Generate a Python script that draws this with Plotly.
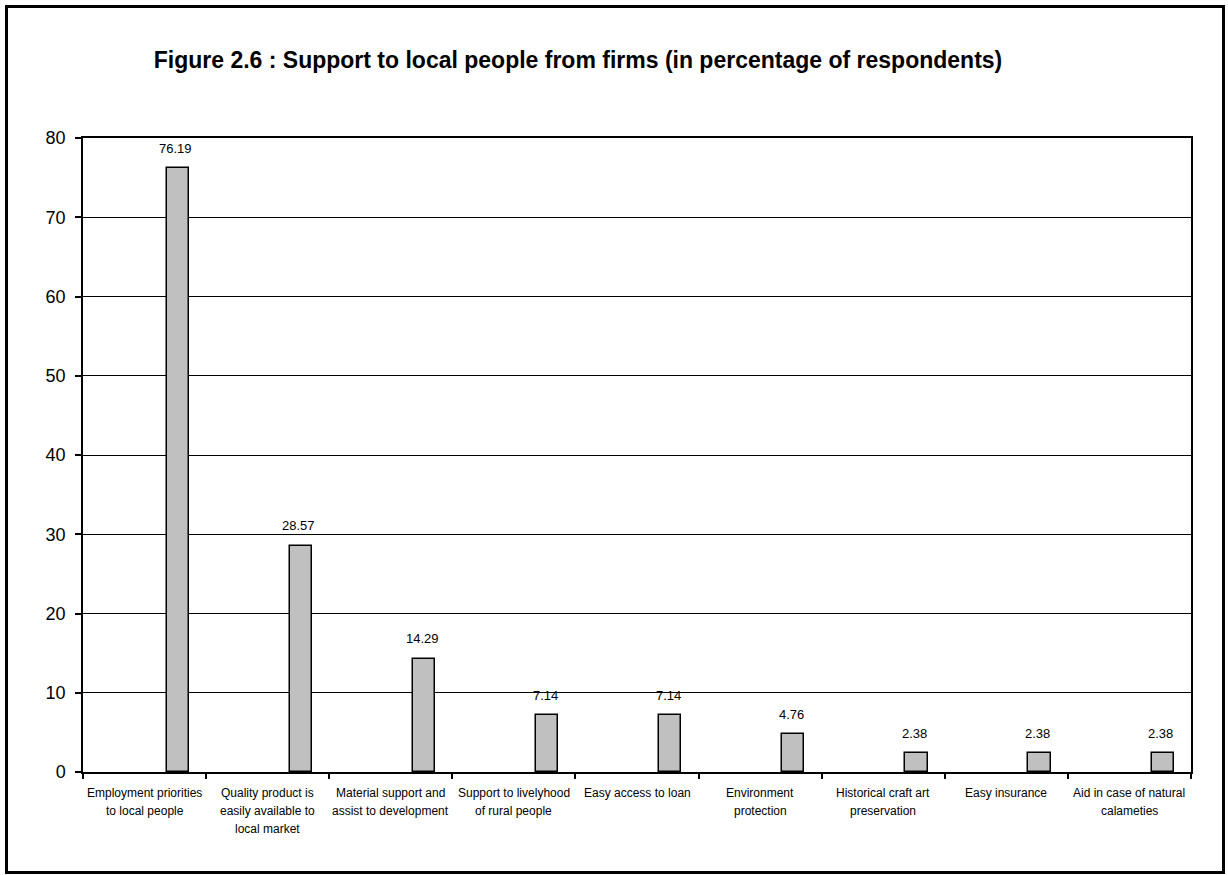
import plotly.graph_objects as go

categories = [
    "Employment priorities<br>to local people",
    "Quality product is<br>easily available to<br>local market",
    "Material support and<br>assist to development",
    "Support to livelyhood<br>of rural people",
    "Easy access to loan",
    "Environment<br>protection",
    "Historical craft art<br>preservation",
    "Easy insurance",
    "Aid in case of natural<br>calameties",
]
values = [76.19, 28.57, 14.29, 7.14, 7.14, 4.76, 2.38, 2.38, 2.38]
value_labels = ["76.19", "28.57", "14.29", "7.14", "7.14", "4.76", "2.38", "2.38", "2.38"]
y_ticks = [0, 10, 20, 30, 40, 50, 60, 70, 80]

W, H = 1228, 875
ML, MR, MT, MB = 83, 37, 138, 103
pw, ph = W - ML - MR, H - MT - MB
FONT = "Arial, Liberation Sans"

fig = go.Figure()
fig.add_trace(go.Bar(
    x=categories, y=values,
    offset=0.18, width=0.18,
    marker=dict(color="#C0C0C0", line=dict(color="black", width=1.5)),
    hoverinfo="y",
))

cat_w = pw / len(categories)
for c, v, t in zip(categories, values, value_labels):
    fig.add_annotation(
        x=c, y=v, text=t, showarrow=False, xref="x", yref="y",
        xshift=0.27 * cat_w - 2, yshift=20, yanchor="middle",
        font=dict(family=FONT, size=13, color="black"),
    )

# category labels, one annotation per line for the reference's line spacing
for c in categories:
    for k, line in enumerate(c.split("<br>")):
        fig.add_annotation(
            x=c, y=0, text=line, showarrow=False, xref="x", yref="y",
            yshift=-(21 + 18 * k), yanchor="middle", xanchor="center",
            font=dict(family=FONT, size=12, color="black"),
        )

def px_x(p):
    return (p - ML) / pw
def px_y(p):
    return (H - MB - p) / ph

fig.add_shape(type="rect", xref="paper", yref="paper",
              x0=px_x(6.5), x1=px_x(1223.5), y0=px_y(872.5), y1=px_y(6.5),
              line=dict(color="black", width=3), fillcolor="rgba(0,0,0,0)", layer="below")

fig.update_layout(
    width=W, height=H,
    margin=dict(l=ML, r=MR, t=MT, b=MB),
    paper_bgcolor="white", plot_bgcolor="white",
    showlegend=False,
    bargap=0,
    font=dict(family=FONT, color="black"),
    title=dict(
        text="<b>Figure 2.6 : Support to local people from firms (in percentage of respondents)</b>",
        x=578 / W, xanchor="center", xref="container",
        y=1 - 60 / H, yanchor="middle", yref="container",
        font=dict(family=FONT, size=23, color="black"),
    ),
    xaxis=dict(
        type="category", tickson="boundaries",
        ticks="outside", ticklen=5, tickwidth=1.5, tickcolor="black",
        showline=True, linecolor="black", linewidth=1.5, mirror=True,
        showgrid=False, showticklabels=False,
    ),
    yaxis=dict(
        range=[0, 80], tickvals=y_ticks,
        ticks="outside", ticklen=6, tickwidth=1.5, tickcolor="black",
        ticklabelstandoff=6,
        showline=True, linecolor="black", linewidth=1.5, mirror=True,
        showgrid=True, gridcolor="black", gridwidth=1.2,
        zeroline=False,
        tickfont=dict(family=FONT, size=18, color="black"),
    ),
)

fig.write_html("out.html")
